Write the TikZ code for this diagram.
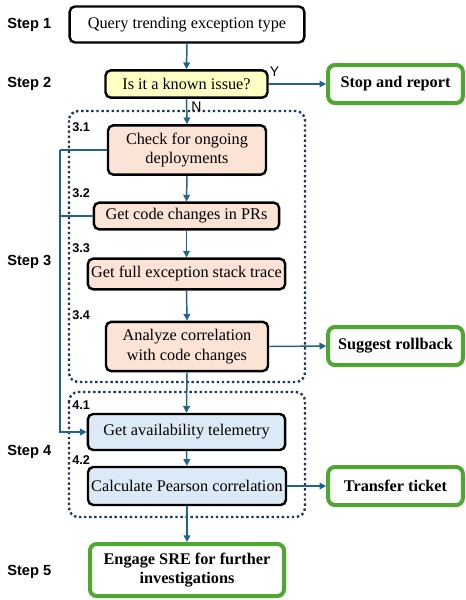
\documentclass[tikz,border=0pt]{standalone}
\usepackage{fontspec}
\setmainfont{Liberation Serif}
\newfontfamily\arialf{Liberation Sans}
\usetikzlibrary{arrows.meta}
\definecolor{arrowc}{HTML}{1F6391}
\definecolor{dotc}{HTML}{1B3A57}
\definecolor{yelc}{HTML}{FFFFC4}
\definecolor{salc}{HTML}{FBE3D6}
\definecolor{bluc}{HTML}{DCE9F6}
\definecolor{grnc}{HTML}{4EA72E}
\tikzset{
  box/.style={draw=black, line width=1.8pt, rounded corners=4pt, align=center, inner sep=1pt,
    font=\fontsize{12.2}{14.5}\selectfont},
  endbox/.style={draw=grnc, line width=3pt, rounded corners=5pt, fill=white, align=center, inner sep=1pt,
    font=\fontsize{12.2}{14.5}\selectfont\bfseries},
  conn/.style={draw=arrowc, line width=1.1pt, -{Triangle[length=5pt,width=5pt]}},
  plain/.style={draw=arrowc, line width=1.1pt},
  grp/.style={draw=dotc, line width=1.8pt, dotted, rounded corners=7pt},
  steplab/.style={font=\arialf\bfseries\fontsize{11}{13}\selectfont, anchor=west, inner sep=0pt},
  sublab/.style={font=\arialf\bfseries\fontsize{9.5}{11}\selectfont, anchor=west, inner sep=0pt},
  yn/.style={font=\arialf\fontsize{10.5}{12}\selectfont, inner sep=0pt}
}
\begin{document}
\begin{tikzpicture}[x=0.75pt,y=-0.75pt]
\useasboundingbox (0,0) rectangle (465,600);
% groups
\draw[grp] (69,111) rectangle (305,382);
\draw[grp] (69,392) rectangle (305,517);
% nodes
\node[box, minimum width=176pt, minimum height=27pt] (q) at (187,24.5) {Query trending exception type};
\node[box, fill=yelc, minimum width=121.5pt, minimum height=20.5pt] (k) at (186.5,84) {Is it a known issue?};
\node[endbox, minimum width=101pt, minimum height=28.5pt] (stop) at (395.5,84) {Stop and report};
\node[box, fill=salc, minimum width=118.5pt, minimum height=37pt] (c1) at (187,150) {Check for ongoing\\deployments};
\node[box, fill=salc, minimum width=139pt, minimum height=20pt] (c2) at (186.5,216) {Get code changes in PRs};
\node[box, fill=salc, minimum width=148pt, minimum height=23pt] (c3) at (186.5,274) {Get full exception stack trace};
\node[box, fill=salc, minimum width=121.5pt, minimum height=37pt] (c4) at (187,346.5) {Analyze correlation\\with code changes};
\node[endbox, minimum width=101pt, minimum height=28.5pt] (rb) at (395.5,346) {Suggest rollback};
\node[box, fill=bluc, minimum width=148pt, minimum height=27pt] (g1) at (186.5,432) {Get availability telemetry};
\node[box, fill=bluc, minimum width=148.5pt, minimum height=28.5pt] (g2) at (187,486) {Calculate Pearson correlation};
\node[endbox, minimum width=101pt, minimum height=28.5pt] (tt) at (395.5,486) {Transfer ticket};
\node[endbox, minimum width=145.5pt, minimum height=39pt] (eng) at (187,570) {Engage SRE for further\\investigations};
% labels
\node[steplab] (s1) at (7,25) {Step 1};
\node[steplab] (s2) at (7,84) {Step 2};
\node[steplab] (s3) at (7,262) {Step 3};
\node[steplab] (s4) at (7,452) {Step 4};
\node[steplab] (s5) at (7,572) {Step 5};
\node[sublab] (l31) at (72,127) {3.1};
\node[sublab] (l32) at (72,193) {3.2};
\node[sublab] (l33) at (72,248) {3.3};
\node[sublab] (l34) at (72,315) {3.4};
\node[sublab] (l41) at (72,405) {4.1};
\node[sublab] (l42) at (72,460) {4.2};
% connectors
\draw[conn] (q.south) -- (k.north);
\draw[conn] (k.east) -- (stop.west) node[yn, pos=0.1, above=5pt] (y) {Y};
\draw[conn] (k.south) -- (c1.north) node[yn, pos=0.3, right=3pt] (n) {N};
\draw[conn] (c1.south) -- (c2.north);
\draw[conn] (c2.south) -- (c3.north);
\draw[conn] (c3.south) -- (c4.north);
\draw[conn] (c4.south) -- (g1.north);
\draw[conn] (g1.south) -- (g2.north);
\draw[conn] (g2.south) -- (eng.north);
\draw[conn] (c4.east) -- (rb.west);
\draw[conn] (g2.east) -- (tt.west);
\coordinate (lt) at (60,150);
\coordinate (lb) at (60,432);
\coordinate (lm) at (60,216);
\draw[plain] (c1.west) -- (lt);
\draw[conn] (lt) -- (lb) -- (g1.west);
\draw[plain] (c2.west) -- (lm);
\end{tikzpicture}
\end{document}
